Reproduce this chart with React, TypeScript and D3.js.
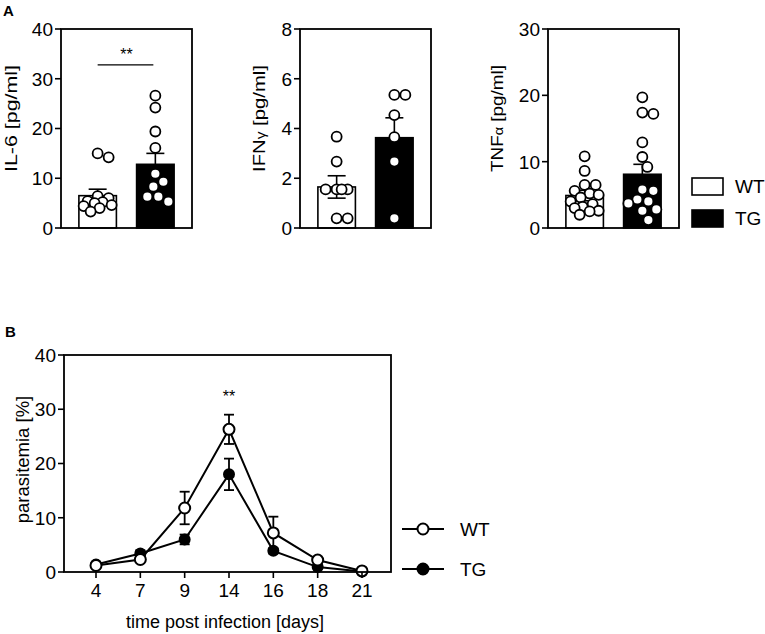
import React from "react";
import * as d3 from "d3";

// ---- panel A data ----
const groups = ["WT", "TG"];

const il6WT = [14.2, 15.0, 6.4, 5.4, 5.2, 6.0, 4.4, 4.0, 3.3, 5.0, 4.6];
const il6TG = [26.6, 24.2, 19.4, 16.1, 10.9, 9.3, 8.3, 6.3, 6.3, 5.3];
const il6Mean = [6.5, 12.8];
const il6Sem = [1.3, 2.2];

const ifnWT = [3.67, 2.67, 1.55, 1.55, 1.55, 1.55, 0.39, 0.39];
const ifnTG = [5.35, 5.35, 4.54, 3.65, 2.67, 0.39];
const ifnMean = [1.65, 3.63];
const ifnSem = [0.45, 0.8];

const tnfWT = [10.8, 8.6, 6.5, 6.5, 5.6, 5.2, 4.6, 4.0, 3.6, 3.2, 3.0, 2.6, 2.5, 2.0, 5.0];
const tnfTG = [19.7, 17.4, 17.2, 12.9, 10.7, 9.2, 5.8, 5.6, 4.3, 4.0, 3.7, 2.8, 2.6, 1.2];
const tnfMean = [4.9, 8.1];
const tnfSem = [0.8, 1.5];

// ---- panel B data ----
const days = ["4", "7", "9", "14", "16", "18", "21"];
const paraWT = [1.2, 2.3, 11.8, 26.3, 7.2, 2.2, 0.2];
const paraWTSem = [0.2, 0.3, 3.0, 2.7, 3.0, 0.4, 0.1];
const paraTG = [1.4, 3.4, 6.0, 18.0, 3.9, 0.9, 0.1];
const paraTGSem = [0.2, 0.6, 0.9, 2.9, 0.5, 0.2, 0.1];

const FONT = "'Liberation Sans', Arial, Helvetica, sans-serif";

// deterministic beeswarm kept inside the bar width
function swarm(values: number[], y: (v: number) => number, cx: number, r: number, half: number) {
  const placed: { x: number; y: number }[] = [];
  const minD = 2 * r + 1;
  const order = values.map((v, i) => i).sort((a, b) => values[b] - values[a]);
  order.forEach((i) => {
    const py = y(values[i]);
    let best = { x: cx, d: -1 };
    for (let k = 0; k <= 2 * half; k++) {
      const off = (k % 2 === 0 ? -1 : 1) * Math.ceil(k / 2);
      const px = cx + off;
      const d = placed.length ? Math.min(...placed.map((p) => Math.hypot(p.x - px, p.y - py))) : Infinity;
      if (d >= minD) {
        best = { x: px, d };
        break;
      }
      if (d > best.d) best = { x: px, d };
    }
    placed.push({ x: best.x, y: py });
  });
  return placed;
}

interface BarPanelProps {
  left: number;
  label: React.ReactNode;
  labelX: number;
  yMax: number;
  yTicks: number[];
  wt: number[];
  tg: number[];
  mean: number[];
  sem: number[];
  sig?: string;
  sigY?: number;
}

function BarPanel({ left, label, labelX, yMax, yTicks, wt, tg, mean, sem, sig, sigY }: BarPanelProps) {
  const top = 29;
  const bottom = 228;
  const width = 131;
  const x = d3.scaleBand<string>().domain(groups).range([left, left + width]).paddingInner(0.35).paddingOuter(0.31);
  const y = d3.scaleLinear().domain([0, yMax]).range([bottom, top]);
  const bw = x.bandwidth();
  const r = 5;
  const pts = [wt, tg].map((vals, gi) => swarm(vals, y, x(groups[gi])! + bw / 2, r, Math.round(bw / 2 - r)));

  return (
    <g>
      {groups.map((g, gi) => (
        <rect key={g} x={x(g)} y={y(mean[gi])} width={bw} height={bottom - y(mean[gi])}
          fill={gi === 0 ? "#fff" : "#000"} stroke="#000" strokeWidth={1.6} />
      ))}
      {groups.map((g, gi) => {
        const cx = x(g)! + bw / 2;
        return (
          <g key={g} stroke="#000" strokeWidth={1.6}>
            <line x1={cx} x2={cx} y1={y(mean[gi] - sem[gi])} y2={y(mean[gi] + sem[gi])} />
            <line x1={cx - 9} x2={cx + 9} y1={y(mean[gi] + sem[gi])} y2={y(mean[gi] + sem[gi])} />
            <line x1={cx - 9} x2={cx + 9} y1={y(mean[gi] - sem[gi])} y2={y(mean[gi] - sem[gi])} />
          </g>
        );
      })}
      {pts.map((arr, gi) =>
        arr.map((p, i) => (
          <circle key={gi + "-" + i} cx={p.x} cy={p.y} r={r} fill="#fff" stroke="#000" strokeWidth={1.8} />
        ))
      )}
      {/* frame */}
      <rect x={left} y={top} width={width} height={bottom - top} fill="none" stroke="#000" strokeWidth={1.8} />
      {yTicks.map((t) => (
        <g key={t}>
          <line x1={left - 6} x2={left} y1={y(t)} y2={y(t)} stroke="#000" strokeWidth={1.6} />
          <text x={left - 8} y={y(t)} dy="0.36em" textAnchor="end" fontSize={19}>{t}</text>
        </g>
      ))}
      <text transform={`translate(${labelX},${(top + bottom) / 2 - 10}) rotate(-90)`} textAnchor="middle" fontSize={17}
        textLength={107} lengthAdjust="spacingAndGlyphs">
        {label}
      </text>
      {sig && sigY !== undefined && (
        <g>
          <line x1={x("WT")! + bw / 2} x2={x("TG")! + bw / 2 - 2} y1={y(sigY)} y2={y(sigY)} stroke="#000" strokeWidth={1.2} />
          <text x={(x("WT")! + x("TG")! + bw) / 2} y={y(sigY) - 5} textAnchor="middle" fontSize={16}>{sig}</text>
        </g>
      )}
    </g>
  );
}

function LinePanel() {
  const left = 64;
  const right = 391;
  const top = 355;
  const bottom = 572;
  const x = d3.scalePoint<string>().domain(days).range([96, 362]);
  const y = d3.scaleLinear().domain([0, 40]).range([bottom, top]);
  const yTicks = [0, 10, 20, 30, 40];
  const line = d3.line<number>().x((d, i) => x(days[i])!).y((d) => y(d));
  const series = [
    { name: "TG", vals: paraTG, sem: paraTGSem, fill: "#000" },
    { name: "WT", vals: paraWT, sem: paraWTSem, fill: "#fff" },
  ];

  return (
    <g>
      {series.map((s) => (
        <g key={s.name}>
          <path d={line(s.vals)!} fill="none" stroke="#000" strokeWidth={2} />
          {s.vals.map((v, i) => {
            const cx = x(days[i])!;
            const hi = y(v + s.sem[i]);
            const lo = y(v - s.sem[i]);
            return (
              <g key={i} stroke="#000" strokeWidth={1.8}>
                <line x1={cx} x2={cx} y1={hi} y2={lo} />
                <line x1={cx - 5} x2={cx + 5} y1={hi} y2={hi} />
                <line x1={cx - 5} x2={cx + 5} y1={lo} y2={lo} />
              </g>
            );
          })}
        </g>
      ))}
      {series.map((s) =>
        s.vals.map((v, i) => (
          <circle key={s.name + i} cx={x(days[i])} cy={y(v)} r={s.name === "TG" ? 5 : 5.5} fill={s.fill} stroke="#000" strokeWidth={2} />
        ))
      )}
      <rect x={left} y={top} width={right - left} height={bottom - top} fill="none" stroke="#000" strokeWidth={1.8} />
      {yTicks.map((t) => (
        <g key={t}>
          <line x1={left - 6} x2={left} y1={y(t)} y2={y(t)} stroke="#000" strokeWidth={1.6} />
          <text x={left - 8} y={y(t)} dy="0.36em" textAnchor="end" fontSize={19}>{t}</text>
        </g>
      ))}
      {days.map((d) => (
        <g key={d}>
          <line x1={x(d)} x2={x(d)} y1={bottom} y2={bottom + 6} stroke="#000" strokeWidth={1.6} />
          <text x={x(d)} y={bottom + 25} textAnchor="middle" fontSize={19}>{d}</text>
        </g>
      ))}
      <text x={225} y={628} textAnchor="middle" fontSize={18}>time post infection [days]</text>
      <text transform={`translate(29,${(top + bottom) / 2 - 4}) rotate(-90)`} textAnchor="middle" fontSize={18.5}>parasitemia [%]</text>
      <text x={x("14")} y={y(31.3)} textAnchor="middle" fontSize={16}>**</text>

      {/* legend */}
      {series.slice().reverse().map((s, i) => {
        const ly = 529 + i * 40;
        return (
          <g key={s.name}>
            <line x1={402} x2={444} y1={ly} y2={ly} stroke="#000" strokeWidth={2} />
            <circle cx={423} cy={ly} r={5.5} fill={s.fill} stroke="#000" strokeWidth={2} />
            <text x={460} y={ly} dy="0.36em" fontSize={19}>{s.name}</text>
          </g>
        );
      })}
    </g>
  );
}

export default function App() {
  return (
    <div>
      <style>{`body{margin:0;background:#fff}`}</style>
      <svg width={765} height={634} style={{ display: "block", fontFamily: FONT }}>
        <rect width={765} height={634} fill="#fff" />
        <text x={3} y={16} fontSize={15} fontWeight="bold">A</text>
        <text x={5} y={337} fontSize={15} fontWeight="bold">B</text>

        <BarPanel left={61} label="IL-6 [pg/ml]" labelX={17} yMax={40} yTicks={[0, 10, 20, 30, 40]}
          wt={il6WT} tg={il6TG} mean={il6Mean} sem={il6Sem} sig="**" sigY={32.8} />
        <BarPanel left={300} label={<>IFN<tspan fontSize={13}>γ</tspan> [pg/ml]</>} labelX={265} yMax={8} yTicks={[0, 2, 4, 6, 8]}
          wt={ifnWT} tg={ifnTG} mean={ifnMean} sem={ifnSem} />
        <BarPanel left={548} label={<>TNF<tspan fontSize={13}>α</tspan> [pg/ml]</>} labelX={503} yMax={30} yTicks={[0, 10, 20, 30]}
          wt={tnfWT} tg={tnfTG} mean={tnfMean} sem={tnfSem} />

        {/* legend A */}
        {groups.map((g, i) => (
          <g key={g}>
            <rect x={692} y={178 + i * 32} width={31} height={17} fill={i === 0 ? "#fff" : "#000"} stroke="#000" strokeWidth={1.6} />
            <text x={735} y={186.5 + i * 32} dy="0.36em" fontSize={19}>{g}</text>
          </g>
        ))}

        <LinePanel />
      </svg>
    </div>
  );
}
